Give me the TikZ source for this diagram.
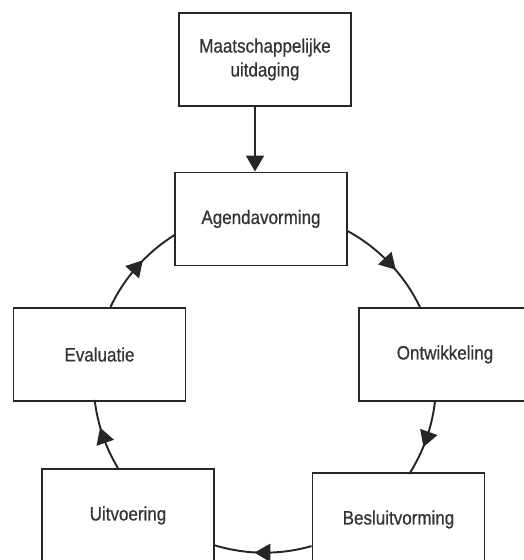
\documentclass[tikz,border=0pt]{standalone}
\usepackage{fontspec}
\setmainfont[FakeStretch=0.88, FakeBold=0.6]{Liberation Sans}
\usetikzlibrary{arrows.meta,decorations.markings}

\tikzset{
  stage/.style={draw=black!85, line width=1.1pt, fill=white, minimum width=3.44cm,
    minimum height=1.86cm, inner sep=0pt, align=center, text=black!80,
    font=\fontsize{11pt}{13.6pt}\selectfont},
  flow/.style={draw=black!85, line width=1.1pt, -{Triangle[length=0.32cm, width=0.36cm]}},
  cyc/.style={draw=black!85, line width=1.1pt, postaction={decorate},
    decoration={markings, mark=at position 0.5 with
      {\arrow[xshift=0.16cm]{Triangle[length=0.32cm, width=0.36cm]}}}}
}

\begin{document}
\begin{tikzpicture}[x=0.02cm, y=0.02cm]
  \useasboundingbox (0,0) rectangle (523,560);

  % Stages
  \node[stage] (uitd) at (265,500.5) {Maatschappelijke\\uitdaging};
  \node[stage] (agenda) at (261,341) {Agendavorming};
  \node[stage] (ontw) at (445,205.5) {Ontwikkeling};
  \node[stage] (besl) at (398.5,40.5) {Besluitvorming};
  \node[stage] (uitv) at (128,44.5) {Uitvoering};
  \node[stage] (eval) at (99.5,205.5) {Evaluatie};

  % Entry into the cycle
  \draw[flow] ([xshift=-0.12cm]uitd.south -| agenda.north) -- ([xshift=-0.12cm]agenda.north);

  % Policy cycle (arcs of one circle)
  \draw[cyc] (agenda.352) arc[start angle=61.3, end angle=25.3, radius=3.42cm];
  \draw[cyc] (ontw.258) arc[start angle=-6.7, end angle=-32.6, radius=3.42cm];
  \draw[cyc] (besl.197) arc[start angle=-74, end angle=-107.4, radius=3.42cm];
  \draw[cyc] (uitv.102) arc[start angle=-149, end angle=-173.3, radius=3.42cm];
  \draw[cyc] (eval.77) arc[start angle=154.7, end angle=121.8, radius=3.42cm];
\end{tikzpicture}
\end{document}
